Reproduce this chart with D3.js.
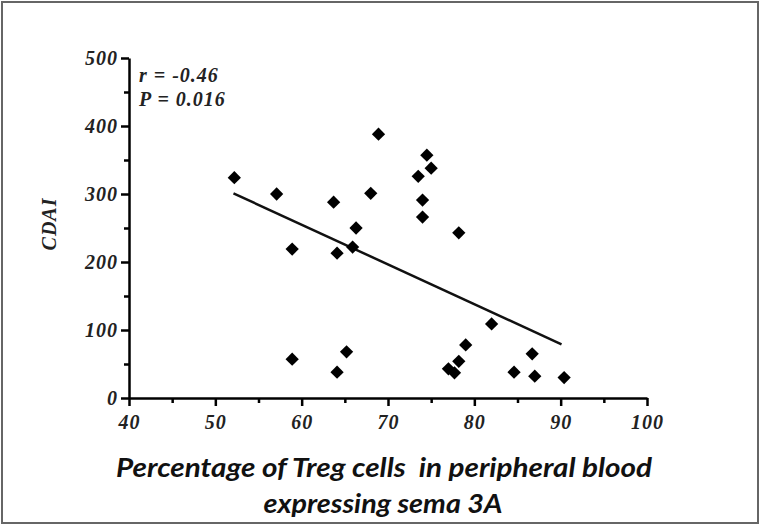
<!DOCTYPE html>
<html>
<head>
<meta charset="utf-8">
<script src="https://cdn.jsdelivr.net/npm/d3@7"></script>
<style>
  body { margin: 0; background: #fff; }
</style>
</head>
<body>
<div id="chart"></div>
<script>

// values
var tregPct = [52.2, 57.1, 58.9, 63.7, 64.1, 66.3, 65.9, 68.0, 68.9,
               74.5, 75.0, 73.5, 74.0, 74.0, 78.2,
               58.9, 64.1, 65.2,
               82.0, 79.0, 78.2, 77.0, 77.7, 84.6, 86.7, 87.0, 90.4];
var cdai    = [324, 300, 219, 288, 213, 250, 222, 301, 388,
               357, 338, 326, 291, 266, 243,
               57, 38, 68,
               109, 78, 54, 43, 37, 38, 65, 32, 30];

// regression line end points
var fitX = [52.1, 90.1];
var fitY = [301, 79];

var xTicks = [40, 50, 60, 70, 80, 90, 100];
var yTicks = [0, 100, 200, 300, 400, 500];
var statLines = ["r = -0.46", "P = 0.016"];
var xTitle = ["Percentage of Treg cells  in peripheral blood", "expressing sema 3A"];
var yTitle = "CDAI";

var W = 762, H = 526;
var margin = {left: 129, top: 58, right: 116, bottom: 128};

var svg = d3.select("#chart")
  .append("svg")
    .attr("width", W)
    .attr("height", H);

// frame
svg.append("rect")
  .attr("x", 2).attr("y", 2)
  .attr("width", 756).attr("height", 521)
  .attr("fill", "#fff")
  .attr("stroke", "#666")
  .attr("stroke-width", 2);

var x = d3.scaleLinear()
  .domain([40, 100])
  .range([margin.left, W - margin.right + 1]);

var y = d3.scaleLinear()
  .domain([0, 500])
  .range([H - margin.bottom, margin.top]);

function serifText(sel, size) {
  sel.attr("font-family", "Liberation Serif, serif")
    .attr("font-weight", "bold")
    .attr("font-style", "italic")
    .attr("font-size", size)
    .attr("letter-spacing", 1)
    .attr("fill", "#222");
}

// minor ticks
svg.append("g")
  .attr("transform", "translate(0," + y(0) + ")")
  .call(d3.axisBottom(x).tickValues([45, 55, 65, 75, 85, 95]).tickSize(5).tickFormat(""))
  .call(function(g) { g.select(".domain").remove(); })
  .selectAll("line").attr("stroke-width", 2.5);

svg.append("g")
  .attr("transform", "translate(" + x(40) + ",0)")
  .call(d3.axisLeft(y).tickValues([50, 150, 250, 350, 450]).tickSize(5).tickFormat(""))
  .call(function(g) { g.select(".domain").remove(); })
  .selectAll("line").attr("stroke-width", 2.5);

// X axis
var gx = svg.append("g")
  .attr("transform", "translate(0," + y(0) + ")")
  .call(d3.axisBottom(x).tickValues(xTicks).tickSize(8).tickPadding(9).tickSizeOuter(0));
gx.select(".domain").attr("stroke-width", 2.5);
gx.selectAll(".tick line").attr("stroke-width", 2.5);
gx.selectAll(".tick text").call(serifText, 20);

// Y axis
var gy = svg.append("g")
  .attr("transform", "translate(" + x(40) + ",0)")
  .call(d3.axisLeft(y).tickValues(yTicks).tickSize(8).tickPadding(3).tickSizeOuter(0));
gy.select(".domain").attr("stroke-width", 2.5);
gy.selectAll(".tick line").attr("stroke-width", 2.5);
gy.selectAll(".tick text").call(serifText, 20);

// regression line
svg.append("path")
  .datum(d3.zip(fitX, fitY))
  .attr("fill", "none")
  .attr("stroke", "#111")
  .attr("stroke-width", 2.5)
  .attr("d", d3.line()
    .x(function(d) { return x(d[0]); })
    .y(function(d) { return y(d[1]); }));

// points (diamonds)
var diamond = d3.symbol().type(d3.symbolSquare).size(88);
svg.append("g")
  .selectAll("path")
  .data(d3.zip(tregPct, cdai))
  .enter()
  .append("path")
    .attr("d", diamond)
    .attr("transform", function(d) { return "translate(" + x(d[0]) + "," + y(d[1]) + ") rotate(45)"; })
    .attr("fill", "#000");

// stats text
svg.append("g")
  .selectAll("text")
  .data(statLines)
  .enter()
  .append("text")
    .attr("x", 139)
    .attr("y", function(d, i) { return 82 + i * 24; })
    .call(serifText, 20)
    .text(function(d) { return d; });

// y title
svg.append("text")
  .attr("transform", "translate(56,224) rotate(-90)")
  .attr("text-anchor", "middle")
  .call(serifText, 20)
  .text(yTitle);

// x title
svg.append("text")
  .attr("x", 384).attr("y", 477)
  .attr("text-anchor", "middle")
  .attr("font-family", "Lato, sans-serif")
  .attr("font-weight", "bold")
  .attr("font-style", "italic")
  .attr("font-size", 26)
  .attr("textLength", 536)
  .attr("lengthAdjust", "spacingAndGlyphs")
  .style("white-space", "pre")
  .attr("fill", "#111")
  .text(xTitle[0]);

svg.append("text")
  .attr("x", 383).attr("y", 513)
  .attr("text-anchor", "middle")
  .attr("font-family", "Lato, sans-serif")
  .attr("font-weight", "bold")
  .attr("font-style", "italic")
  .attr("font-size", 26)
  .attr("textLength", 239)
  .attr("lengthAdjust", "spacingAndGlyphs")
  .attr("fill", "#111")
  .text(xTitle[1]);

</script>
</body>
</html>
